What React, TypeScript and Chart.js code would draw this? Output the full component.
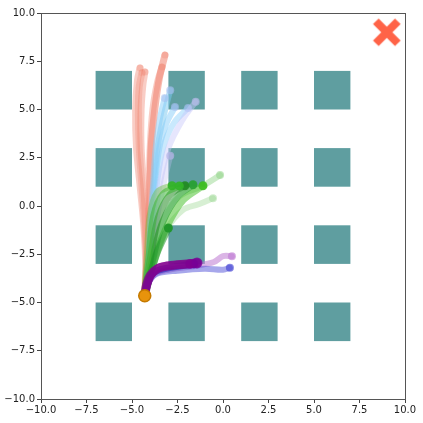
import React, { useEffect, useRef } from 'react';
import { Chart, registerables } from 'chart.js';
Chart.register(...registerables);

// ---- data ----
const axisMin = -10;
const axisMax = 10;
const tickStep = 2.5;

const obstacleCentersX = [-6, -2, 2, 6];
const obstacleCentersY = [6, 2, -2, -6];
const obstacleHalfSize = 1;

const startPoint = [{ x: -4.3, y: -4.65 }];
const goalPoint = [{ x: 9, y: 9 }];

type P = { x: number; y: number };
const pts = (a: number[][]): P[] => a.map(([x, y]) => ({ x, y }));

// salmon trajectories
const salmon1 = pts([[-4.3, -4.65], [-4.25, -3], [-4.35, -1], [-4.55, 1], [-4.75, 3], [-4.8, 5], [-4.7, 6.5], [-4.56, 7.15]]);
const salmon2 = pts([[-4.3, -4.65], [-4.2, -3], [-4.25, -1], [-4.35, 1], [-4.5, 3], [-4.5, 5], [-4.4, 6.3], [-4.29, 6.94]]);
const salmon3 = pts([[-4.3, -4.65], [-4.15, -3], [-4.05, -1], [-4.0, 1], [-3.95, 3], [-3.75, 5], [-3.5, 6.6], [-3.19, 7.82]]);
const salmon4 = pts([[-4.3, -4.65], [-4.15, -3], [-4.1, -1], [-4.05, 1], [-4.0, 3], [-3.85, 5], [-3.6, 6.4], [-3.35, 7.2]]);
const salmon5 = pts([[-4.3, -4.65], [-4.2, -3], [-4.3, -1], [-4.45, 1], [-4.6, 3], [-4.65, 5], [-4.6, 6.2], [-4.45, 6.9]]);
// light blue trajectories
const blue1 = pts([[-4.3, -4.65], [-4.1, -3], [-4.0, -1], [-3.8, 1], [-3.6, 3], [-3.3, 4.5], [-2.9, 6.0]]);
const blue2 = pts([[-4.3, -4.65], [-4.1, -3], [-3.95, -1], [-3.75, 1], [-3.5, 3], [-3.1, 4.3], [-2.64, 5.13]]);
const blue3 = pts([[-4.3, -4.65], [-4.05, -3], [-3.9, -1], [-3.65, 1], [-3.3, 3], [-2.7, 4.3], [-1.92, 5.08]]);
const blue4 = pts([[-4.3, -4.65], [-4.1, -3], [-4.0, -1], [-3.85, 1], [-3.7, 3], [-3.45, 4.6], [-3.2, 5.6]]);
const lavender1 = pts([[-4.3, -4.65], [-4.0, -3], [-3.8, -1], [-3.5, 1], [-3.0, 3], [-2.2, 4.5], [-1.5, 5.4]]);
const lavender2 = pts([[-4.3, -4.65], [-4.0, -3], [-3.7, -1], [-3.3, 1], [-2.9, 2.6]]);
// green trajectories
const green1 = pts([[-4.3, -4.65], [-4.05, -2.5], [-3.8, -0.5], [-3.3, 0.6], [-2.4, 1.04]]);
const green2 = pts([[-4.3, -4.65], [-3.95, -2.5], [-3.55, -0.6], [-2.9, 0.6], [-2.09, 1.05]]);
const green3 = pts([[-4.3, -4.65], [-3.8, -2.5], [-3.3, -0.8], [-2.5, 0.5], [-1.65, 1.1]]);
const green4 = pts([[-4.3, -4.65], [-3.7, -2.6], [-3.05, -1.0], [-2.2, 0.3], [-1.1, 1.05]]);
const green5 = pts([[-4.3, -4.65], [-3.85, -2.5], [-3.3, -0.8], [-2.4, 0.5], [-1.2, 1.0], [-0.16, 1.6]]);
const green6 = pts([[-4.3, -4.65], [-3.75, -2.6], [-3.1, -1.2], [-2.2, -0.2], [-1.3, 0.1], [-0.55, 0.4]]);
const green7 = pts([[-4.3, -4.65], [-3.65, -2.5], [-3.0, -1.14]]);
const green8 = pts([[-4.3, -4.65], [-4.15, -2.5], [-4.0, -0.5], [-3.6, 0.7], [-2.8, 1.05]]);
// purple trajectories
const purple1 = pts([[-4.3, -4.65], [-4.2, -4.1], [-4.0, -3.6], [-3.6, -3.25], [-3.0, -3.1], [-2.0, -3.0], [-1.43, -2.95]]);
const purple2 = pts([[-4.3, -4.65], [-4.15, -4.0], [-3.9, -3.5], [-3.4, -3.15], [-2.6, -3.05], [-1.8, -3.0]]);
const indigo1 = pts([[-4.3, -4.65], [-4.1, -3.9], [-3.8, -3.45], [-3.2, -3.25], [-2.3, -3.1], [-1.6, -3.0]]);
const violet1 = pts([[-4.3, -4.65], [-4.1, -4.0], [-3.7, -3.5], [-3.0, -3.3], [-1.5, -3.1], [-0.5, -2.9], [0.0, -2.6], [0.49, -2.6]]);
const blueViolet1 = pts([[-4.3, -4.65], [-4.05, -3.9], [-3.6, -3.5], [-2.5, -3.35], [-1.0, -3.25], [0.0, -3.3], [0.38, -3.2]]);

const fmt = (v: number) => v.toFixed(1).replace('-', '\u2212');

function makeGoalStyle(): HTMLCanvasElement {
  const c = document.createElement('canvas');
  c.width = 32;
  c.height = 32;
  const g = c.getContext('2d')!;
  g.strokeStyle = '#ff6347';
  g.lineWidth = 8;
  g.lineCap = 'butt';
  g.beginPath();
  g.moveTo(5, 5);
  g.lineTo(27, 27);
  g.moveTo(27, 5);
  g.lineTo(5, 27);
  g.stroke();
  return c;
}

function traj(data: P[], color: string, width: number, endColor: string, order: number, endRadius?: number) {
  const r = endRadius ?? width / 2 + 1;
  return {
    data,
    showLine: true,
    borderColor: color,
    borderWidth: width,
    tension: 0.35,
    borderCapStyle: 'round' as const,
    borderJoinStyle: 'round' as const,
    pointRadius: data.map((_, i) => (i === data.length - 1 ? r : 0)),
    pointBackgroundColor: endColor,
    pointBorderWidth: 0,
    order,
  };
}

const obstaclePlugin = {
  id: 'obstacles',
  beforeDatasetsDraw(chart: any) {
    const { ctx } = chart;
    const x = chart.scales.x;
    const y = chart.scales.y;
    ctx.save();
    ctx.fillStyle = '#5f9ea0';
    for (const cx of obstacleCentersX) {
      for (const cy of obstacleCentersY) {
        const l = x.getPixelForValue(cx - obstacleHalfSize);
        const r = x.getPixelForValue(cx + obstacleHalfSize);
        const t = y.getPixelForValue(cy + obstacleHalfSize);
        const b = y.getPixelForValue(cy - obstacleHalfSize);
        ctx.fillRect(l, t, r - l, b - t);
      }
    }
    ctx.restore();
  },
};

const framePlugin = {
  id: 'frame',
  afterDraw(chart: any) {
    const { ctx, chartArea: a } = chart;
    ctx.save();
    ctx.strokeStyle = '#555';
    ctx.lineWidth = 1;
    ctx.strokeRect(Math.round(a.left) + 0.5, Math.round(a.top) + 0.5, Math.round(a.right - a.left), Math.round(a.bottom - a.top));
    ctx.restore();
  },
};

export default function App() {
  const ref = useRef<HTMLCanvasElement>(null);
  useEffect(() => {
    if (!ref.current) return;
    const datasets: any[] = [
      { data: goalPoint, pointStyle: makeGoalStyle(), pointRadius: 16, showLine: false, order: 0 },
      {
        data: startPoint, pointRadius: 6, pointBackgroundColor: '#e8930c', pointBorderColor: '#c47a00',
        pointBorderWidth: 1.5, showLine: false, order: 1,
      },
      traj(purple1, 'rgba(128,0,140,0.75)', 9, 'rgba(120,0,150,0.8)', 2),
      traj(purple2, 'rgba(140,0,150,0.6)', 8, 'rgba(120,0,160,0.7)', 3),
      traj(indigo1, 'rgba(40,40,180,0.6)', 7, 'rgba(60,0,170,0.7)', 4),
      traj(blueViolet1, 'rgba(60,60,210,0.45)', 6, 'rgba(60,60,210,0.6)', 5),
      traj(violet1, 'rgba(190,120,210,0.55)', 6, 'rgba(190,120,210,0.6)', 6),
      traj(green7, 'rgba(30,150,40,0.55)', 7, 'rgba(30,150,40,0.9)', 7),
      traj(green1, 'rgba(50,180,40,0.5)', 7, 'rgba(50,180,40,0.9)', 8),
      traj(green8, 'rgba(110,190,60,0.45)', 7, 'rgba(50,180,40,0.9)', 9),
      traj(green2, 'rgba(34,139,34,0.55)', 7, 'rgba(34,139,34,0.9)', 10),
      traj(green3, 'rgba(40,160,50,0.55)', 7, 'rgba(40,160,50,0.9)', 11),
      traj(green4, 'rgba(60,190,30,0.5)', 7, 'rgba(60,190,30,0.9)', 12),
      traj(green5, 'rgba(140,210,130,0.45)', 6, 'rgba(140,210,130,0.5)', 13),
      traj(green6, 'rgba(140,210,130,0.35)', 6, 'rgba(140,210,130,0.4)', 14),
      traj(lavender2, 'rgba(190,190,240,0.35)', 6, 'rgba(180,180,230,0.7)', 15),
      traj(lavender1, 'rgba(200,200,250,0.45)', 6, 'rgba(190,190,240,0.6)', 16),
      traj(blue3, 'rgba(135,206,250,0.45)', 6, 'rgba(170,190,240,0.6)', 17),
      traj(blue2, 'rgba(135,206,250,0.5)', 6, 'rgba(170,190,240,0.6)', 18),
      traj(blue4, 'rgba(135,206,250,0.5)', 6, 'rgba(170,190,240,0.5)', 19),
      traj(blue1, 'rgba(120,200,240,0.5)', 6, 'rgba(170,190,240,0.6)', 20),
      traj(salmon4, 'rgba(240,130,110,0.4)', 7, 'rgba(240,130,110,0.3)', 21, 3.5),
      traj(salmon3, 'rgba(240,130,110,0.55)', 7, 'rgba(240,130,110,0.3)', 22, 3.5),
      traj(salmon5, 'rgba(240,130,110,0.3)', 7, 'rgba(240,130,110,0.2)', 23, 3.5),
      traj(salmon2, 'rgba(240,130,110,0.4)', 7, 'rgba(240,130,110,0.3)', 24, 3.5),
      traj(salmon1, 'rgba(240,130,110,0.4)', 7, 'rgba(240,130,110,0.3)', 25, 3.5),
    ];
    const chart = new Chart(ref.current, {
      type: 'scatter',
      data: { datasets },
      plugins: [obstaclePlugin, framePlugin],
      options: {
        animation: false,
        responsive: false,
        events: [],
        layout: { autoPadding: false, padding: { left: 0, top: 13, right: 18, bottom: 0 } },
        plugins: { legend: { display: false }, tooltip: { enabled: false } },
        scales: {
          x: {
            type: 'linear',
            min: axisMin,
            max: axisMax,
            afterFit: (s: any) => { s.height = 24; s.paddingLeft = 0; s.paddingRight = 0; },
            ticks: {
              stepSize: tickStep,
              autoSkip: false,
              maxRotation: 0,
              padding: 1,
              color: '#222',
              font: { family: 'DejaVu Sans', size: 10 },
              callback: (v: any) => fmt(Number(v)),
            },
            grid: { drawOnChartArea: false, tickLength: 4, color: '#444', tickColor: '#444' },
            border: { display: true, color: '#555' },
          },
          y: {
            type: 'linear',
            min: axisMin,
            max: axisMax,
            afterFit: (s: any) => { s.width = 41; s.paddingTop = 0; s.paddingBottom = 0; },
            ticks: {
              stepSize: tickStep,
              autoSkip: false,
              padding: 2,
              color: '#222',
              font: { family: 'DejaVu Sans', size: 10 },
              callback: (v: any) => fmt(Number(v)),
            },
            grid: { drawOnChartArea: false, tickLength: 4, color: '#444', tickColor: '#444' },
            border: { display: true, color: '#555' },
          },
        },
      },
    });
    return () => chart.destroy();
  }, []);
  return (
    <div style={{ position: 'absolute', left: 0, top: 0, width: 423, height: 423, background: '#fff' }}>
      <canvas ref={ref} width={423} height={423} style={{ width: 423, height: 423 }} />
    </div>
  );
}
